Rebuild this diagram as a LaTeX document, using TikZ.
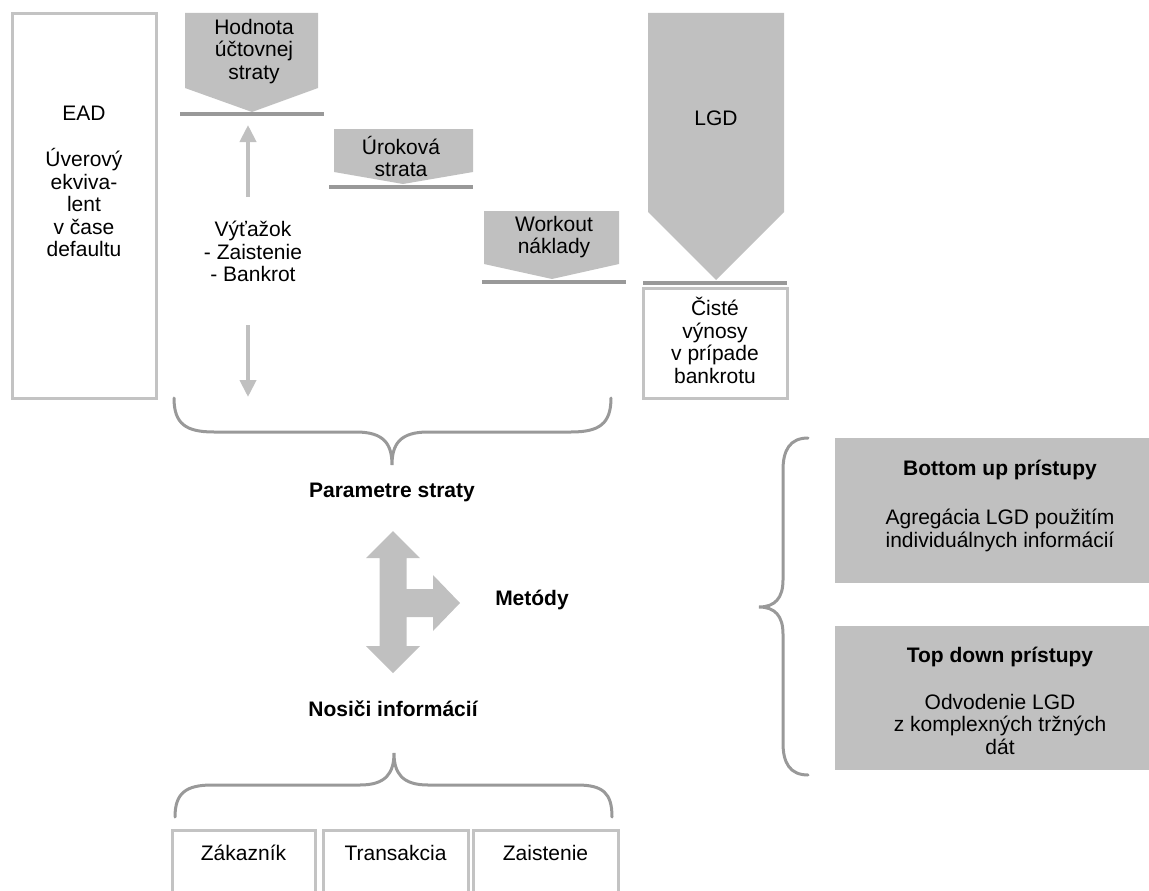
\documentclass[tikz,border=0pt]{standalone}
\usepackage{fontspec}
\setmainfont{Liberation Sans}
\usetikzlibrary{arrows.meta}
\definecolor{tone}{HTML}{C0C0C0}
\definecolor{rulegray}{HTML}{999999}
\definecolor{framegray}{HTML}{C3C3C3}

\begin{document}
\begin{tikzpicture}[x=1pt,y=-1pt,
  every node/.style={font=\fontsize{21}{22.5}\selectfont, inner sep=0pt, outer sep=0pt},
  lines/.style={align=center, anchor=north,
    execute at begin node=\strut, execute at end node=\strut},
  oneline/.style={anchor=base},
  heading/.style={anchor=base, font=\fontsize{21}{22.5}\selectfont\bfseries},
  framebox/.style={draw=framegray, line width=3pt, rectangle},
  graybox/.style={fill=tone, rectangle},
  pent/.style={fill=tone},
  baseline rule/.style={draw=rulegray, line width=3.5pt},
  bracestyle/.style={draw=rulegray, line width=3pt, line cap=round},
  thinarrow/.style={draw=tone, line width=4pt,
    -{Triangle[width=16pt,length=17pt]}}]

\useasboundingbox (0,0) rectangle (1149,891);

% ---- exposure box on the left
\node[framebox, minimum width=144pt, minimum height=384pt] (ead) at (84,206) {};
\node[lines] (eadtxt) at (84,106.25)
  {EAD\\[23.5pt]Úverový\\ekviva-\\lent\\v čase\\defaultu};

% ---- loss components (pentagon arrows onto baselines)
\fill[pent] (185,13) -- (318,13) -- (318,88) -- (252,112) -- (185,88) -- cycle;
\draw[baseline rule] (180,114) -- (324,114);
\node[lines] (hodnota) at (254,19.25) {Hodnota\\účtovnej\\straty};

\fill[pent] (334,129) -- (473,129) -- (473,172) -- (403,184) -- (334,172) -- cycle;
\draw[baseline rule] (329,187) -- (473,187);
\node[lines] (urok) at (401,136.25) {Úroková\\strata};

\fill[pent] (484,211) -- (619,211) -- (619,264) -- (552,279) -- (484,264) -- cycle;
\draw[baseline rule] (482,282) -- (626,282);
\node[lines] (workout) at (554,216.25) {Workout\\náklady};

\fill[pent] (648,13) -- (784,13) -- (784,212) -- (716,280) -- (648,212) -- cycle;
\draw[baseline rule] (643,283) -- (787,283);
\node[oneline] (lgd) at (716,125) {LGD};

\node[framebox, minimum width=144pt, minimum height=110pt] (ciste) at (715,343) {};
\node[lines] (cistetxt) at (715,297.25) {Čisté\\výnosy\\v prípade\\bankrotu};

% ---- recovery with arrows up and down
\node[lines] (vyt) at (253,221.25) {Výťažok\\- Zaistenie\\- Bankrot};
\coordinate (upfrom) at (248,197);
\coordinate (upto) at (248,125);
\coordinate (downfrom) at (248,325);
\coordinate (downto) at (248,397);
\draw[thinarrow] (upfrom) -- (upto);
\draw[thinarrow] (downfrom) -- (downto);

% ---- brace under the loss parameters
\draw[bracestyle] (174,398) .. controls (174,424) and (186,432) .. (214,432)
  -- (356,432) .. controls (384,432) and (392,444) .. (392,465)
  .. controls (392,444) and (400,432) .. (428,432)
  -- (571,432) .. controls (599,432) and (611,424) .. (611,398);
\node[heading] (param) at (392,497) {Parametre straty};

% ---- three-way block arrow
\fill[tone] (393,531) -- (420,558) -- (406.5,558) -- (406.5,589) -- (433,589)
  -- (433,575) -- (460,603) -- (433,631) -- (433,617) -- (406.5,617)
  -- (406.5,646) -- (420,646) -- (393,673) -- (366,646) -- (379.5,646)
  -- (379.5,558) -- (366,558) -- cycle;
\node[heading] (metody) at (532,605) {Metódy};
\node[heading] (nosici) at (393,716) {Nosiči informácií};

% ---- brace over the information carriers
\draw[bracestyle] (175,817) .. controls (175,793) and (186,785) .. (212,785)
  -- (360,785) .. controls (386,785) and (394,773) .. (394,753)
  .. controls (394,773) and (402,785) .. (428,785)
  -- (577,785) .. controls (603,785) and (612,793) .. (612,817);

\node[framebox, minimum width=143pt, minimum height=100pt] (zak) at (243.5,880) {};
\node[framebox, minimum width=145pt, minimum height=100pt] (trans) at (395.5,880) {};
\node[framebox, minimum width=145pt, minimum height=100pt] (zaist) at (545.5,880) {};
\node[oneline] (zaktxt) at (243.5,860) {Zákazník};
\node[oneline] (transtxt) at (395.5,860) {Transakcia};
\node[oneline] (zaisttxt) at (545.5,860) {Zaistenie};

% ---- methods brace and approach boxes
\draw[bracestyle] (808,438) .. controls (790,438) and (783,450) .. (783,470)
  -- (783,580) .. controls (783,598) and (775,607) .. (759,607)
  .. controls (775,607) and (783,616) .. (783,634)
  -- (783,743) .. controls (783,763) and (790,775) .. (808,775);

\node[graybox, minimum width=317pt, minimum height=145pt] (bottomup) at (993.5,510.5) {};
\node[heading] (butitle) at (1000,475) {Bottom up prístupy};
\node[lines] (butxt) at (1000,509.25) {Agregácia LGD použitím\\individuálnych informácií};

\node[graybox, minimum width=317pt, minimum height=144pt] (topdown) at (993.5,698) {};
\node[heading] (tdtitle) at (1000,662) {Top down prístupy};
\node[lines] (tdtxt) at (1000,694.25) {Odvodenie LGD\\z komplexných tržných\\dát};

\end{tikzpicture}
\end{document}
